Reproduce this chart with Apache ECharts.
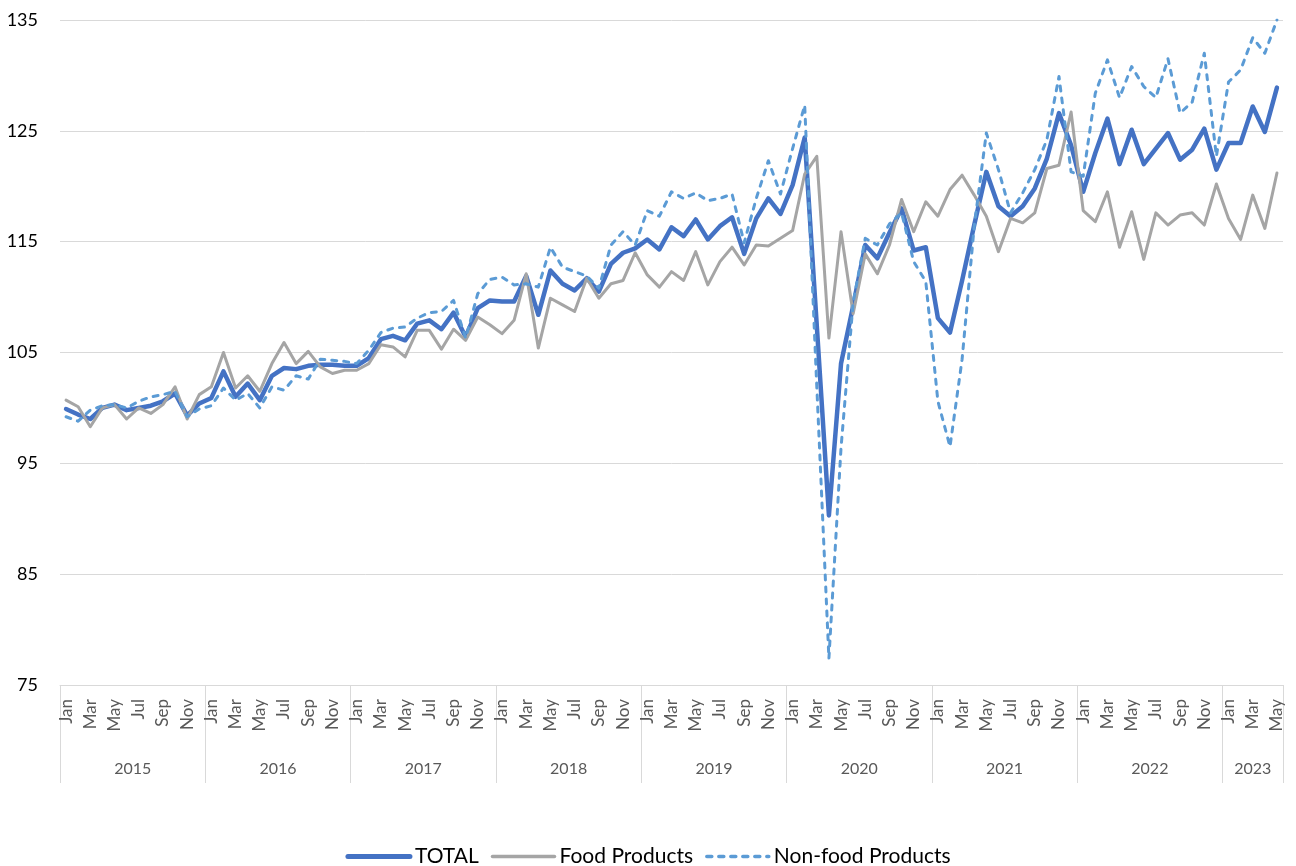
<!DOCTYPE html>
<html>
<head>
<meta charset="utf-8">
<script src="https://cdn.jsdelivr.net/npm/echarts@6/dist/echarts.min.js"></script>
<style>
html,body{margin:0;padding:0;background:#fff;}
#chart{width:1296px;height:866px;}
</style>
</head>
<body>
<div id="chart"></div>
<script>
// ---- data ----
const years = ['2015','2016','2017','2018','2019','2020','2021','2022','2023'];
const monthNames = ['Jan','Feb','Mar','Apr','May','Jun','Jul','Aug','Sep','Oct','Nov','Dec'];
const monthsIn2023 = 5;

const total = [
  99.9, 99.4, 99.0, 100.0, 100.3, 99.8, 100.0, 100.2, 100.6, 101.3, 99.3, 100.4,
  100.9, 103.3, 101.0, 102.2, 100.7, 102.9, 103.6, 103.5, 103.8, 103.9, 103.9, 103.8,
  103.8, 104.5, 106.2, 106.5, 106.1, 107.6, 107.9, 107.1, 108.6, 106.4, 109.0, 109.7,
  109.6, 109.6, 111.9, 108.4, 112.4, 111.2, 110.6, 111.7, 110.5, 113.0, 114.0, 114.4,
  115.2, 114.3, 116.3, 115.5, 117.0, 115.2, 116.4, 117.2, 113.9, 117.1, 118.9, 117.5,
  120.1, 124.4, 107.4, 90.3, 104.0, 109.2, 114.7, 113.5, 115.8, 118.0, 114.2, 114.5,
  108.1, 106.8, 111.5, 116.5, 121.3, 118.2, 117.3, 118.2, 119.8, 122.5, 126.6, 123.7,
  119.5, 123.0, 126.1, 122.0, 125.1, 122.0, 123.4, 124.8, 122.4, 123.3, 125.2, 121.5,
  123.9, 123.9, 127.2, 124.9, 128.9
];
const food = [
  100.7, 100.1, 98.3, 100.0, 100.3, 99.0, 100.0, 99.5, 100.3, 101.9, 99.0, 101.2,
  101.9, 105.0, 101.8, 102.9, 101.5, 104.0, 105.9, 104.0, 105.1, 103.7, 103.1, 103.4,
  103.4, 104.0, 105.7, 105.5, 104.6, 107.0, 107.0, 105.3, 107.1, 106.1, 108.2, 107.5,
  106.7, 107.9, 112.1, 105.4, 109.9, 109.3, 108.7, 111.7, 109.9, 111.2, 111.5, 114.0,
  112.0, 110.9, 112.3, 111.5, 114.1, 111.1, 113.2, 114.5, 112.9, 114.7, 114.6, 115.3,
  116.0, 121.1, 122.7, 106.3, 115.9, 108.5, 113.9, 112.1, 114.7, 118.8, 115.9, 118.6,
  117.3, 119.7, 121.0, 119.2, 117.3, 114.1, 117.1, 116.7, 117.6, 121.6, 121.9, 126.7,
  117.8, 116.8, 119.5, 114.5, 117.7, 113.4, 117.6, 116.5, 117.4, 117.6, 116.5, 120.2,
  117.1, 115.2, 119.2, 116.2, 121.2
];
const nonFood = [
  99.2, 98.8, 99.8, 100.2, 100.3, 100.0, 100.6, 101.0, 101.2, 101.5, 99.2, 99.9,
  100.2, 101.8, 100.7, 101.3, 100.0, 101.9, 101.6, 102.9, 102.6, 104.4, 104.3, 104.2,
  104.0, 105.2, 106.8, 107.2, 107.3, 108.1, 108.6, 108.7, 109.7, 106.3, 110.3, 111.6,
  111.8, 111.1, 111.2, 110.9, 114.5, 112.7, 112.3, 111.9, 110.8, 114.7, 115.9, 114.7,
  117.8, 117.3, 119.5, 118.9, 119.4, 118.7, 118.9, 119.3, 114.9, 118.9, 122.3, 119.3,
  123.4, 127.3, 101.9, 77.4, 96.4, 109.5, 115.3, 114.7, 116.6, 117.6, 113.2, 111.4,
  100.6, 96.5, 104.4, 116.4, 124.8, 121.5, 117.6, 119.4, 121.5, 124.2, 129.9, 121.3,
  120.9, 128.4, 131.4, 128.0, 130.8, 129.0, 128.0, 131.5, 126.6, 127.6, 132.0, 122.7,
  129.4, 130.5, 133.4, 132.0, 135.0
];
const yTicks = { min: 75, max: 135, step: 10 };
const seriesNames = ['TOTAL', 'Food Products', 'Non-food Products'];

// ---- build categories ----
const monthCats = [];
const yearCats = [];
years.forEach((y, yi) => {
  const n = (yi === years.length - 1) ? monthsIn2023 : 12;
  for (let m = 0; m < n; m++) { monthCats.push(monthNames[m]); yearCats.push(y); }
});
const N = monthCats.length;
// index at which to show each year's label (middle of the year)
const yearLabelIdx = {};
years.forEach((y, yi) => {
  const start = yi * 12;
  const n = (yi === years.length - 1) ? monthsIn2023 : 12;
  yearLabelIdx[n === 12 ? start + 6 : start + Math.floor(n / 2)] = (n % 2 === 0) ? 'even' : 'odd';
});

const FONT = 'Lato, "Open Sans", sans-serif';
const chart = echarts.init(document.getElementById('chart'), null, { renderer: 'canvas' });
chart.setOption({
  animation: false,
  backgroundColor: '#ffffff',
  grid: { left: 60, right: 13, top: 20, bottom: 181, containLabel: false },
  legend: {
    data: [
      { name: seriesNames[0], lineStyle: { width: 5 } },
      { name: seriesNames[1], lineStyle: { width: 3.5 } },
      { name: seriesNames[2], lineStyle: { width: 3.5 } }
    ],
    top: 841,
    left: 'center',
    itemWidth: 62,
    itemHeight: 14,
    itemGap: 12,
    itemStyle: { opacity: 0 },
    textStyle: { fontFamily: FONT, fontSize: 21, color: '#000' }
  },
  xAxis: [
    {
      type: 'category',
      data: monthCats,
      boundaryGap: true,
      position: 'bottom',
      axisLine: { show: true, lineStyle: { color: '#d9d9d9', width: 1 } },
      axisTick: { show: false },
      splitLine: { show: false },
      axisLabel: {
        interval: 1,
        rotate: 90,
        margin: 14,
        fontFamily: FONT,
        fontSize: 17,
        color: '#595959'
      }
    },
    {
      type: 'category',
      data: yearCats,
      boundaryGap: true,
      position: 'bottom',
      axisLine: { show: false },
      axisTick: {
        show: true,
        length: 98,
        interval: function (index) { return index % 12 === 0 || index === N; },
        lineStyle: { color: '#d9d9d9', width: 1 }
      },
      axisLabel: {
        interval: function (index) { return yearLabelIdx[index] !== undefined; },
        margin: 76,
        fontFamily: FONT,
        fontSize: 16,
        color: '#595959',
        formatter: function (v, index) {
          return yearLabelIdx[index] === 'even' ? '{e|' + v + '}' : '{o|' + v + '}';
        },
        rich: {
          e: { padding: [0, 12, 0, 0], fontFamily: FONT, fontSize: 16, color: '#595959' },
          o: { fontFamily: FONT, fontSize: 16, color: '#595959' }
        }
      }
    }
  ],
  yAxis: {
    type: 'value',
    min: yTicks.min,
    max: yTicks.max,
    interval: yTicks.step,
    axisLine: { show: false },
    axisTick: { show: false },
    splitLine: { show: true, lineStyle: { color: '#d9d9d9', width: 1 } },
    axisLabel: { margin: 22, fontFamily: FONT, fontSize: 18, color: '#000' }
  },
  series: [
    {
      name: seriesNames[0], type: 'line', data: total, xAxisIndex: 0,
      symbol: 'none', color: '#4472C4',
      lineStyle: { color: '#4472C4', width: 4.5, join: 'round', cap: 'round' }
    },
    {
      name: seriesNames[1], type: 'line', data: food, xAxisIndex: 0,
      symbol: 'none', color: '#A5A5A5',
      lineStyle: { color: '#A5A5A5', width: 3, join: 'round', cap: 'round' }
    },
    {
      name: seriesNames[2], type: 'line', data: nonFood, xAxisIndex: 0,
      symbol: 'none', color: '#5B9BD5',
      lineStyle: { color: '#5B9BD5', width: 3, type: [5, 7], join: 'round', cap: 'round' }
    }
  ]
});
</script>
</body>
</html>
